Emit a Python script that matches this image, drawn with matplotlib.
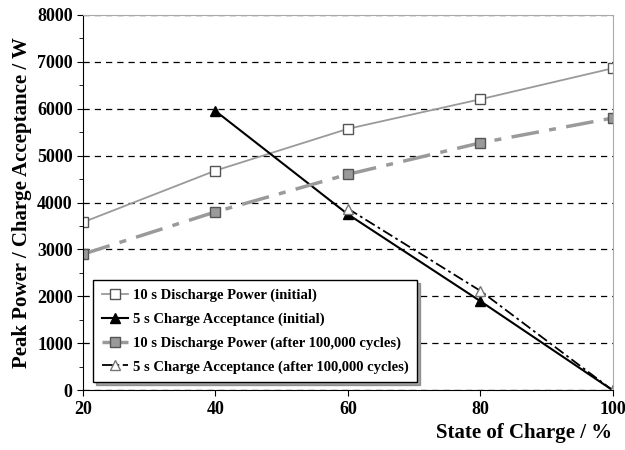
import matplotlib
matplotlib.use("Agg")
import matplotlib.pyplot as plt

plt.rcParams['font.family'] = ['Liberation Serif', 'DejaVu Serif']
plt.rcParams['font.weight'] = 'bold'

soc = [20, 40, 60, 80, 100]
dis_init = [3580, 4680, 5570, 6200, 6860]
dis_aged = [2900, 3800, 4600, 5270, 5800]
soc_chg = [40, 60, 80, 100]
chg_init = [5950, 3750, 1900, 0]
soc_chg_aged = [60, 80, 100]
chg_aged = [3870, 2120, 0]

fig, ax = plt.subplots(figsize=(6.25, 4.5), dpi=100)
fig.subplots_adjust(left=0.133, right=0.98, top=0.967, bottom=0.133)

ax.plot(soc, dis_init, color='#9a9a9a', lw=1.3, marker='s', ms=6.5,
        mfc='white', mec='#555555', label='10 s Discharge Power (initial)')
ax.plot(soc_chg, chg_init, color='black', lw=1.5, marker='^', ms=6.5,
        mfc='black', mec='black', label='5 s Charge Acceptance (initial)')
ax.plot(soc, dis_aged, color='#9a9a9a', lw=2.5, ls=(0, (8, 3, 2, 3)), marker='s', ms=6.5,
        mfc='#9a9a9a', mec='#555555', label='10 s Discharge Power (after 100,000 cycles)')
ax.plot(soc_chg_aged, chg_aged, color='black', lw=1.3, ls=(0, (6, 2, 1.5, 2)), marker='^', ms=6.5,
        mfc='white', mec='#777777', label='5 s Charge Acceptance (after 100,000 cycles)')

ax.set_xlim(20, 100)
ax.set_ylim(0, 8000)
ax.set_xticks([20, 40, 60, 80, 100])
ax.set_yticks(range(0, 8001, 1000))
ax.set_yticks(range(500, 8000, 1000), minor=True)
ax.yaxis.grid(True, which='major', color='black', ls=(0, (5, 4)), lw=0.9)
ax.set_axisbelow(True)
ax.tick_params(axis='both', labelsize=13, direction='out', length=4)
ax.tick_params(axis='y', which='minor', length=3)
for lab in ax.get_xticklabels() + ax.get_yticklabels():
    lab.set_fontweight('bold')

ax.spines['left'].set_color('black')
ax.spines['bottom'].set_color('black')
ax.spines['top'].set_color('#aaaaaa')
ax.spines['right'].set_color('#aaaaaa')

ax.set_ylabel('Peak Power / Charge Acceptance / W', fontsize=15, fontweight='bold')
ax.set_xlabel('State of Charge / %', fontsize=15, fontweight='bold', loc='right')

leg = ax.legend(loc='lower left', bbox_to_anchor=(0.019, 0.021), borderaxespad=0,
                fontsize=10.5, frameon=True, fancybox=False, shadow=True,
                handlelength=1.8, borderpad=0.6, labelspacing=0.7, handletextpad=0.3)
leg.get_frame().set_edgecolor('black')
leg.get_frame().set_linewidth(1.0)
for t in leg.get_texts():
    t.set_fontweight('bold')

fig.savefig('out.png', dpi=100)
